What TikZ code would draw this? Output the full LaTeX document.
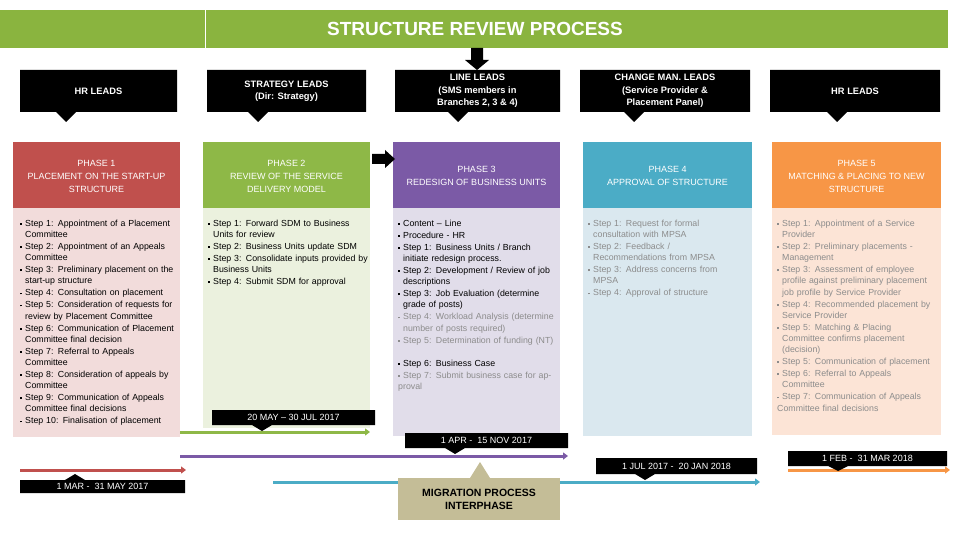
\documentclass[tikz,border=0pt]{standalone}
\usepackage{fontspec}
\setmainfont{Liberation Sans}
\usetikzlibrary{arrows.meta}
\definecolor{bannerG}{HTML}{8AB43F}
\definecolor{pRed}{HTML}{C0504D}
\definecolor{pGreen}{HTML}{8EB847}
\definecolor{pPurple}{HTML}{7B5AA6}
\definecolor{pTeal}{HTML}{4BACC6}
\definecolor{pOrange}{HTML}{F79646}
\definecolor{bRed}{HTML}{F2DCDB}
\definecolor{bGreen}{HTML}{EBF1DE}
\definecolor{bPurple}{HTML}{E1DDEA}
\definecolor{bTeal}{HTML}{DAE8EF}
\definecolor{bOrange}{HTML}{FCE4D6}
\definecolor{tan}{HTML}{C4BD97}
\definecolor{gtxt}{HTML}{8C8C8C}
\newcommand\stepitem[1]{\par\hangindent=5pt\hangafter=1\noindent\makebox[5pt][l]{\raisebox{1.5pt}{\rule{1.8pt}{1.8pt}}}#1}
\newcommand\bodyfnt{\fontsize{8.8}{11.2}\selectfont}
\newcommand\bodyset{\hyphenpenalty=10000\relax\parskip=0.8pt\relax}
\tikzset{
 lead/.style={fill=black,text=white,font=\fontsize{9.3}{12.5}\selectfont\bfseries,align=center,inner sep=0pt},
 phead/.style={text=white,font=\fontsize{9}{13}\selectfont,align=center,inner sep=0pt},
 body/.style={anchor=north west,align=left,inner sep=0pt,font=\bodyfnt},
 dlabel/.style={fill=black,text=white,font=\fontsize{9}{10}\selectfont,inner sep=0pt},
 tl/.style={line width=3pt,-{Triangle[length=5pt,width=7pt]}}
}
\begin{document}
\begin{tikzpicture}[x=1pt,y=-1pt]
\useasboundingbox (0,0) rectangle (960,540);
% banner
\fill[bannerG] (0,10) rectangle (948,48);
\draw[white,line width=1pt] (205,10) -- (205,48);
\node[text=white,font=\fontsize{19}{22}\selectfont\bfseries] (title) at (475,29) {STRUCTURE REVIEW PROCESS};
\coordinate (bA) at (477,48);
\fill[black] (471,48) rectangle (483,60) (465,60) -- (489,60) -- (477,70) -- cycle;
% leads
\foreach \n/\xa/\xb/\px/\t in {l1/20/177/66/{HR LEADS},l2/207/366/258/{STRATEGY LEADS\\(Dir: Strategy)},l3/395/560/458/{LINE LEADS\\(SMS members in\\Branches 2, 3 \& 4)},l4/580/750/634/{CHANGE MAN. LEADS\\(Service Provider \&\\Placement Panel)},l5/770/940/837/{HR LEADS}}{
 \fill (\xa,70) rectangle (\xb,112) (\px-10,112) -- (\px+10,112) -- (\px,122) -- cycle;
 \node[lead] (\n) at ({(\xa+\xb)/2},91) {\t};
}
% phases
\foreach \n/\xa/\xb/\hc/\bc/\by/\t in {p1/13/180/pRed/bRed/437/{PHASE 1\\PLACEMENT ON THE START-UP\\STRUCTURE},p2/203/370/pGreen/bGreen/428/{PHASE 2\\REVIEW OF THE SERVICE\\DELIVERY MODEL},p3/393/560/pPurple/bPurple/436/{PHASE 3\\REDESIGN OF BUSINESS UNITS},p4/583/752/pTeal/bTeal/436/{PHASE 4\\APPROVAL OF STRUCTURE},p5/772/941/pOrange/bOrange/435/{PHASE 5\\MATCHING \& PLACING TO NEW\\STRUCTURE}}{
 \fill[\bc] (\xa,208) rectangle (\xb,\by);
 \fill[\hc] (\xa,142) rectangle (\xb,208);
 \node[phead] (\n) at ({(\xa+\xb)/2},176) {\t};
}
\fill[black] (372,154) rectangle (385,164) (385,150) -- (395,159) -- (385,168) -- cycle;
% bodies
\node[body,text width=158pt] (b1) at (20,214) {\bodyset
\stepitem{Step 1: Appointment of a Placement Committee}
\stepitem{Step 2: Appointment of an Appeals Committee}
\stepitem{Step 3: Preliminary placement on the start-up structure}
\stepitem{Step 4: Consultation on placement}
\stepitem{Step 5: Consideration of requests for review by Placement Committee}
\stepitem{Step 6: Communication of Placement Committee final decision}
\stepitem{Step 7: Referral to Appeals Committee}
\stepitem{Step 8: Consideration of appeals by Committee}
\stepitem{Step 9: Communication of Appeals Committee final decisions}
\stepitem{Step 10: Finalisation of placement}};
\node[body,text width=160pt] (b2) at (208,214) {\bodyset
\stepitem{Step 1: Forward SDM to Business Units for review}
\stepitem{Step 2: Business Units update SDM}
\stepitem{Step 3: Consolidate inputs provided by Business Units}
\stepitem{Step 4: Submit SDM for approval}};
\node[body,text width=156pt] (b3) at (398,214) {\bodyset
\stepitem{Content -- Line}
\stepitem{Procedure - HR}
\stepitem{Step 1: Business Units / Branch initiate redesign process.}
\stepitem{Step 2: Development / Review of job descriptions}
\stepitem{Step 3: Job Evaluation (determine grade of posts)}
\color{gtxt}\stepitem{Step 4: Workload Analysis (determine number of posts required)}
\stepitem{Step 5: Determination of funding (NT)}
{\color{black}\stepitem{Step 6: Business Case}}
\stepitem{Step 7: Submit business case for approval}};
\node[body,text width=155pt,text=gtxt] (b4) at (588,214) {\bodyset
\stepitem{Step 1: Request for formal consultation with MPSA}
\stepitem{Step 2: Feedback / Recommendations from MPSA}
\stepitem{Step 3: Address concerns from MPSA}
\stepitem{Step 4: Approval of structure}};
\node[body,text width=158pt,text=gtxt] (b5) at (777,214) {\bodyset
\stepitem{Step 1: Appointment of a Service Provider}
\stepitem{Step 2: Preliminary placements - Management}
\stepitem{Step 3: Assessment of employee profile against preliminary placement job profile by Service Provider}
\stepitem{Step 4: Recommended placement by Service Provider}
\stepitem{Step 5: Matching \& Placing Committee confirms placement (decision)}
\stepitem{Step 5: Communication of placement}
\stepitem{Step 6: Referral to Appeals Committee}
\stepitem{Step 7: Communication of Appeals Committee final decisions}};
% timeline arrows
\coordinate (g1) at (180,432); \coordinate (g2) at (370,432);
\draw[tl,pGreen] (g1) -- (g2);
\coordinate (u1) at (180,456); \coordinate (u2) at (568,456);
\draw[tl,pPurple] (u1) -- (u2);
\coordinate (r1) at (20,470); \coordinate (r2) at (186,470);
\draw[tl,pRed] (r1) -- (r2);
\coordinate (t1) at (273,482); \coordinate (t2) at (760,482);
\draw[tl,pTeal] (t1) -- (t2);
\coordinate (o1) at (788,470); \coordinate (o2) at (950,470);
\draw[tl,pOrange] (o1) -- (o2);
% date labels
\fill (212,410) rectangle (375,425) (252,425) -- (272,425) -- (262,431) -- cycle;
\node[dlabel] (d2) at (293.5,417.5) {20 MAY -- 30 JUL 2017};
\fill (405,433) rectangle (568,448) (445,448) -- (465,448) -- (455,454) -- cycle;
\node[dlabel] (d3) at (486.5,440.5) {1 APR -\ \ 15 NOV 2017};
\fill (20,480) rectangle (185,493) (65,480) -- (85,480) -- (75,474) -- cycle;
\node[dlabel] (d1) at (102.5,486.5) {1 MAR -\ \ 31 MAY 2017};
\fill (596,458) rectangle (757,474) (635,474) -- (655,474) -- (645,480) -- cycle;
\node[dlabel] (d4) at (676.5,466) {1 JUL 2017 -\ \ 20 JAN 2018};
\fill (788,451) rectangle (947,466) (828,466) -- (848,466) -- (838,471) -- cycle;
\node[dlabel] (d5) at (867.5,458.5) {1 FEB -\ \ 31 MAR 2018};
% migration
\fill[tan] (398,478) rectangle (560,520);
\node[font=\fontsize{10.5}{13}\selectfont\bfseries,align=center] (mig) at (479,499) {MIGRATION PROCESS\\INTERPHASE};
\fill[tan] (470,478) -- (490,478) -- (480,462) -- cycle;
\end{tikzpicture}
\end{document}
